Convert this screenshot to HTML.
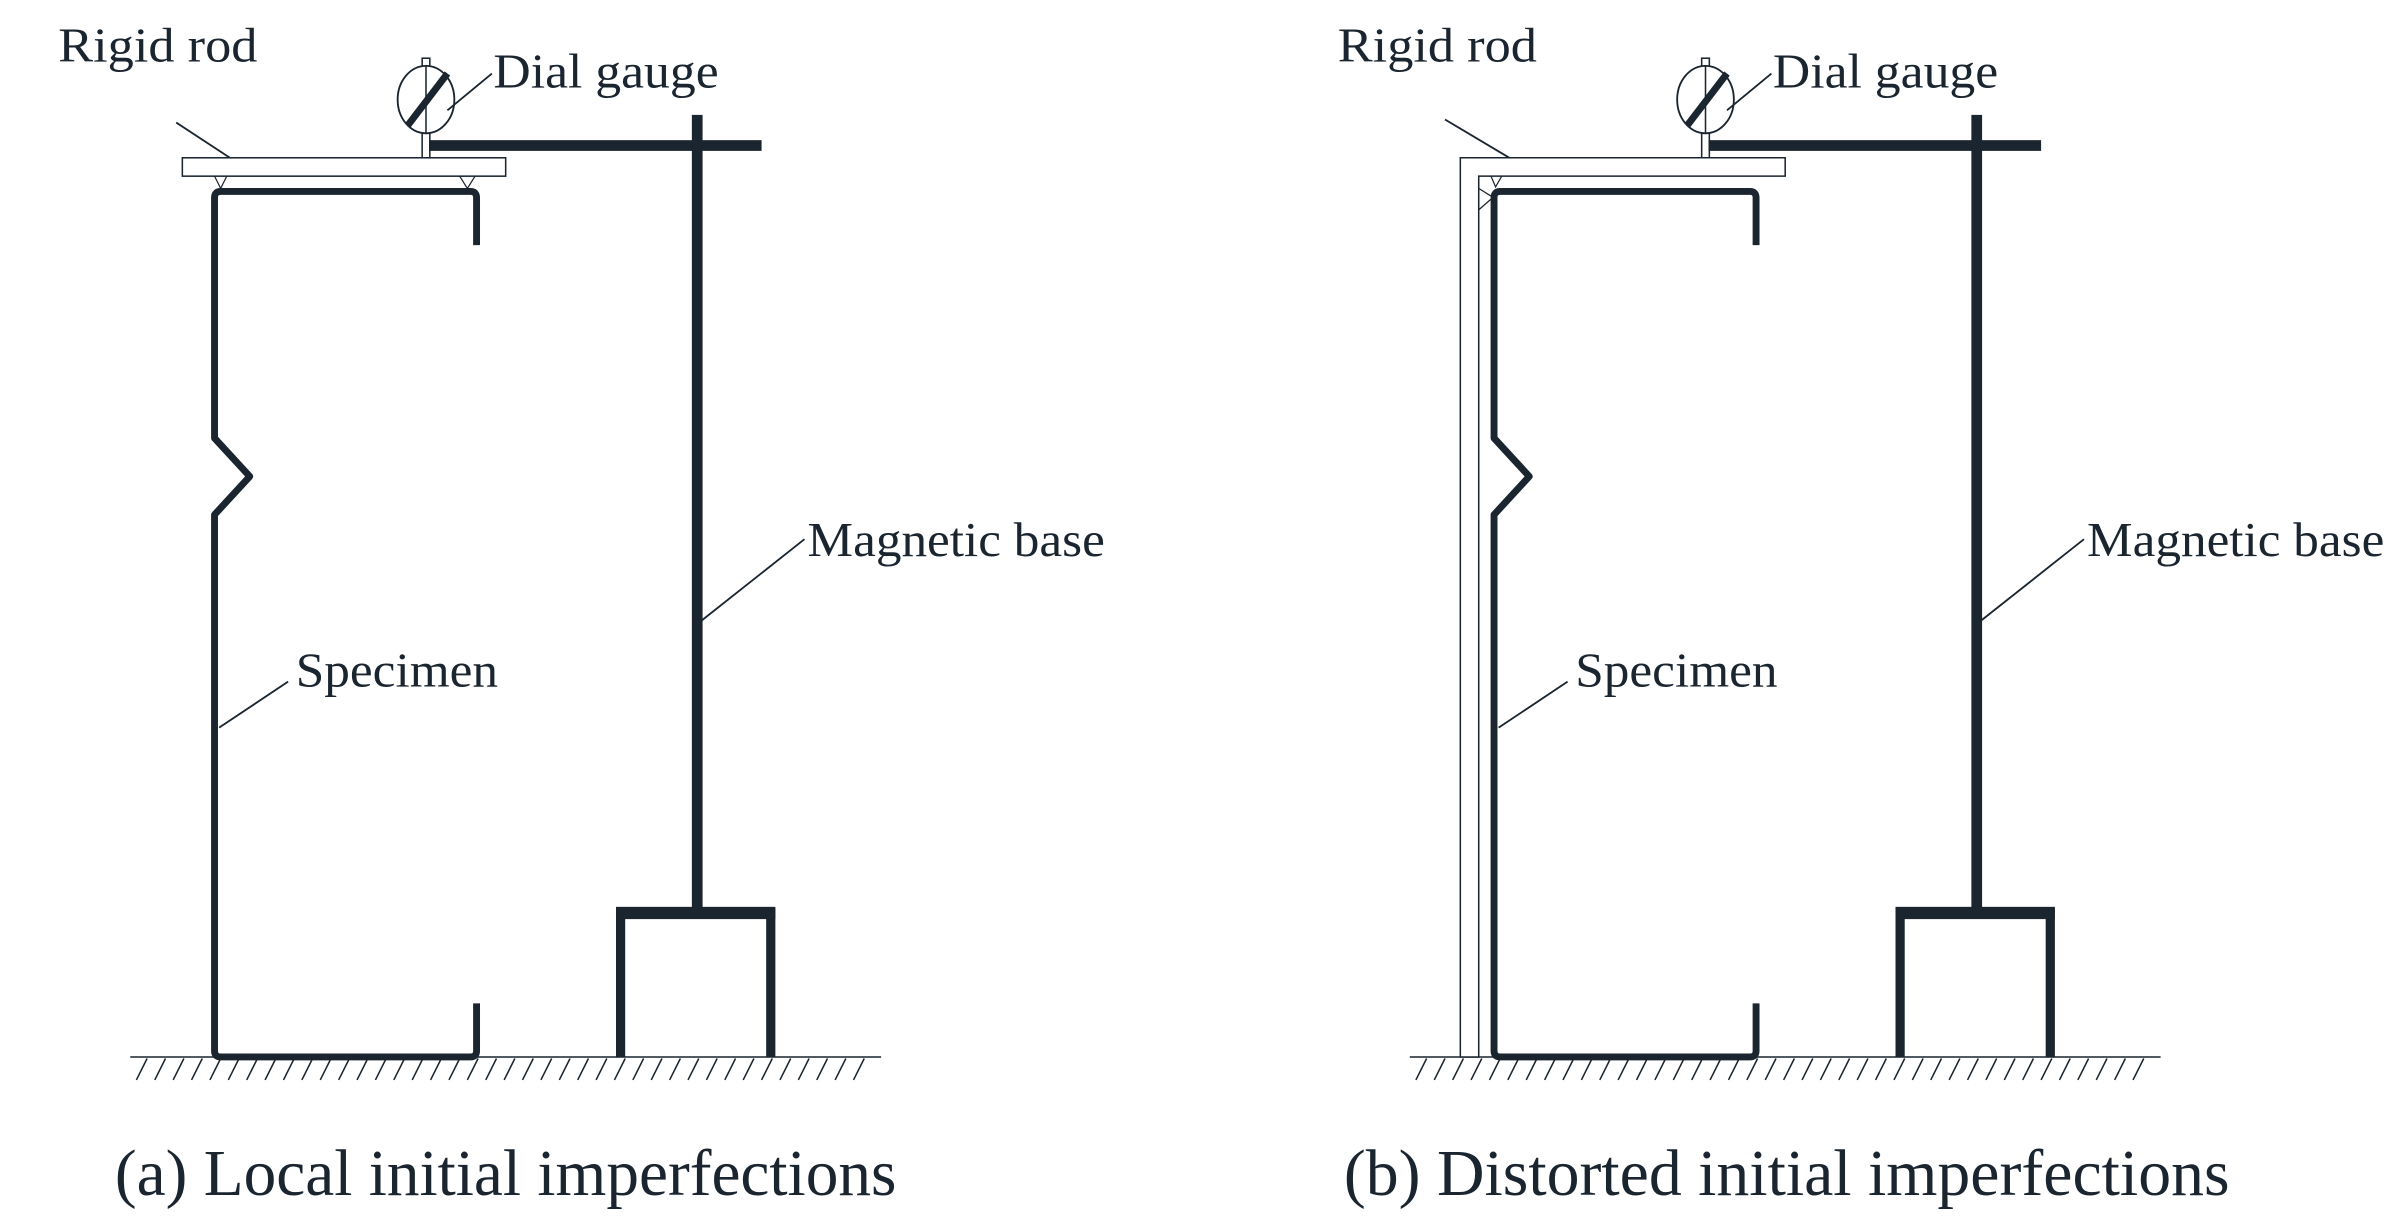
<!DOCTYPE html>
<html><head><meta charset="utf-8"><style>html,body{margin:0;padding:0;background:#fff}svg{display:block}</style></head>
<body>
<svg width="2392" height="1227" viewBox="0 0 1561 801" preserveAspectRatio="none" xmlns="http://www.w3.org/2000/svg" font-family="'Liberation Serif', serif" fill="#1a252f">
<defs>
<g id="common">
  <path d="M311,160 L311,129 Q311,125 307,125 L144,125 Q140,125 140,129 L140,286 L163,311 L140,336 L140,686 Q140,690 144,690 L307,690 Q311,690 311,686 L311,655" fill="none" stroke="#1a252f" stroke-width="4.5" stroke-linejoin="round"/>
  <rect x="275.5" y="38" width="5" height="65" fill="#fff" stroke="#1a252f" stroke-width="1"/>
  <ellipse cx="278" cy="65" rx="18.5" ry="22" fill="#fff" stroke="#1a252f" stroke-width="1.2"/>
  <line x1="278" y1="43" x2="278" y2="87" stroke="#1a252f" stroke-width="1"/>
  <line x1="266" y1="82" x2="292" y2="48" stroke="#1a252f" stroke-width="4.5"/>
  <line x1="292" y1="72" x2="321" y2="48" stroke="#1a252f" stroke-width="1.2"/>
  <text x="322" y="57" font-size="32" textLength="147" lengthAdjust="spacingAndGlyphs">Dial gauge</text>
  <rect x="280" y="91.5" width="217" height="7"/>
  <rect x="451.5" y="75" width="7" height="522"/>
  <path d="M405,690 L405,596 L503,596 L503,690" fill="none" stroke="#1a252f" stroke-width="6"/>
  <rect x="402" y="592" width="104" height="8"/>
  <line x1="458" y1="405" x2="525" y2="352" stroke="#1a252f" stroke-width="1.2"/>
  <text x="527" y="363" font-size="32" textLength="194" lengthAdjust="spacingAndGlyphs">Magnetic base</text>
  <line x1="143" y1="475" x2="188" y2="445" stroke="#1a252f" stroke-width="1.2"/>
  <text x="193" y="448" font-size="32" textLength="132" lengthAdjust="spacingAndGlyphs">Specimen</text>
  <text x="38" y="40" font-size="32" textLength="130" lengthAdjust="spacingAndGlyphs">Rigid rod</text>
  <line x1="85" y1="690" x2="575" y2="690" stroke="#1a252f" stroke-width="1"/>
  <g stroke="#1a252f" stroke-width="1">
  <path d="M89,705l7,-14M101,705l7,-14M113,705l7,-14M125,705l7,-14M137,705l7,-14M149,705l7,-14M161,705l7,-14M173,705l7,-14M185,705l7,-14M197,705l7,-14M209,705l7,-14M221,705l7,-14M233,705l7,-14M245,705l7,-14M257,705l7,-14M269,705l7,-14M281,705l7,-14M293,705l7,-14M305,705l7,-14M317,705l7,-14M329,705l7,-14M341,705l7,-14M353,705l7,-14M365,705l7,-14M377,705l7,-14M389,705l7,-14M401,705l7,-14M413,705l7,-14M425,705l7,-14M437,705l7,-14M449,705l7,-14M461,705l7,-14M473,705l7,-14M485,705l7,-14M497,705l7,-14M509,705l7,-14M521,705l7,-14M533,705l7,-14M545,705l7,-14M557,705l7,-14"/>
  </g>
</g>
</defs>

<use href="#common"/>
<rect x="119" y="103" width="211" height="12" fill="#fff" stroke="#1a252f" stroke-width="1"/>
<path d="M140,115 L144,123 L148,115 M300,115 L305,123 L310,115" fill="none" stroke="#1a252f" stroke-width="0.8"/>
<line x1="115" y1="80" x2="150" y2="103" stroke="#1a252f" stroke-width="1.2"/>
<text x="75" y="780" font-size="43" textLength="510" lengthAdjust="spacingAndGlyphs">(a) Local initial imperfections</text>

<g transform="translate(835,0)">
<use href="#common"/>
<path d="M118,103 L330,103 L330,115 L130,115 L130,690 L118,690 Z" fill="#fff" stroke="#1a252f" stroke-width="1"/>
<path d="M130,123 L138,128 M130,137 L138,130 M138,115 L141,122 L145,115" fill="none" stroke="#1a252f" stroke-width="0.8"/>
<line x1="108" y1="78" x2="150" y2="103" stroke="#1a252f" stroke-width="1.2"/>
</g>
<text x="877" y="780" font-size="43" textLength="578" lengthAdjust="spacingAndGlyphs">(b) Distorted initial imperfections</text>
</svg>
</body></html>
